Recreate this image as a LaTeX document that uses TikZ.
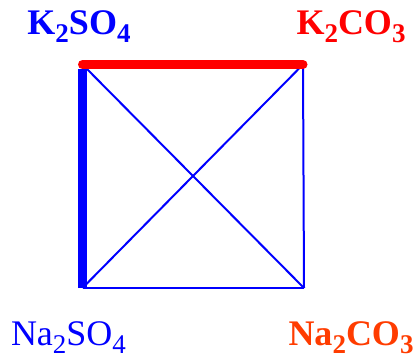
\documentclass[tikz,border=0pt]{standalone}
\usepackage{fontspec}
\setmainfont{Liberation Serif}
\usepackage{tikz}
\definecolor{natred}{RGB}{255,60,0}
\newcommand{\ionsub}[1]{\raisebox{-8pt}{\fontsize{27}{27}\selectfont #1}}
\tikzset{salt/.style = {anchor = base, inner sep = 0pt, font = \fontsize{36}{40}\selectfont}}
\tikzset{edge/.style = {draw = blue, line width = 2pt}}
\tikzset{thick edge/.style = {line width = 9pt, line cap = round}}

\begin{document}
\begin{tikzpicture}[x = 1pt, y = -1pt]
			\useasboundingbox (0, 0) rectangle (417, 358);

			\coordinate (ks) at (82.5, 64.5);
			\coordinate (kc) at (303, 64.5);
			\coordinate (ns) at (82.5, 288);
			\coordinate (nc) at (304, 288);

			\node[salt, text = blue] (kso) at (79, 35) {\bfseries K\ionsub{2}SO\ionsub{4}};
			\node[salt, text = red] (kco) at (351, 35) {\bfseries K\ionsub{2}CO\ionsub{3}};
			\node[salt, text = blue] (nso) at (68.5, 345) {Na\ionsub{2}SO\ionsub{4}};
			\node[salt, text = natred] (nco) at (351, 345) {\bfseries Na\ionsub{2}CO\ionsub{3}};

			\draw[edge] (kc) -- (nc);
			\draw[edge] (nc) -- (ns);
			\draw[edge] (ks) -- (nc);
			\draw[edge] (kc) -- (ns);
			\draw[thick edge, blue, line cap = butt] (ns) -- ([yshift = -4.5pt]ks);
			\draw[thick edge, red] (ks) -- (kc);
		\end{tikzpicture}
\end{document}
